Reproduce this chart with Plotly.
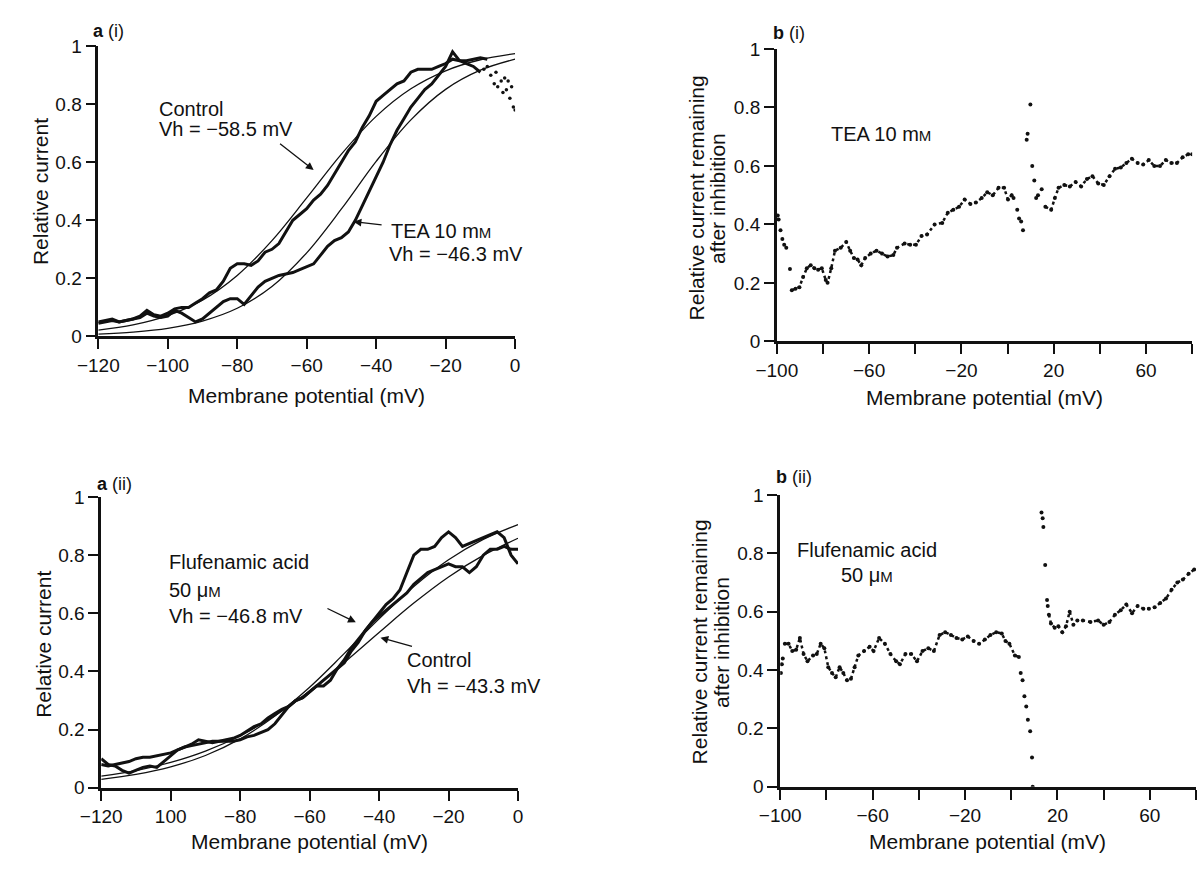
import plotly.graph_objects as go

W, H = 1203, 870
FONT = "Liberation Sans, Arial, Helvetica, sans-serif"
INK = "#111111"

# ---------------- a(i) : Control vs TEA 10 mM ----------------
ai_fit_v = [-120, -110, -100, -90, -80, -70, -60, -50, -40, -30, -20, -10, 0]
ai_ctrl_fit = [0.022, 0.040, 0.072, 0.125, 0.210, 0.330, 0.477, 0.628, 0.758, 0.853, 0.915, 0.953, 0.974]
ai_tea_fit = [0.008, 0.015, 0.028, 0.053, 0.097, 0.172, 0.288, 0.439, 0.603, 0.746, 0.851, 0.917, 0.955]

ai_ctrl_v = [-120, -118, -116, -114, -112, -110, -108, -106, -104, -102, -100, -98, -96, -94, -92, -90,
             -88, -86, -84, -82, -80, -78, -76, -74, -72, -70, -68, -66, -64, -62, -60, -58, -56, -54,
             -52, -50, -48, -46, -44, -42, -40, -38, -36, -34, -32, -30, -28, -26, -24, -22, -20, -18,
             -16, -14, -12, -10, -8]
ai_ctrl_i = [0.05, 0.055, 0.06, 0.05, 0.055, 0.06, 0.07, 0.09, 0.075, 0.07, 0.08, 0.095, 0.10, 0.10, 0.115, 0.13,
             0.15, 0.16, 0.19, 0.235, 0.25, 0.25, 0.245, 0.26, 0.29, 0.30, 0.32, 0.36, 0.40, 0.42, 0.44, 0.47, 0.49, 0.52,
             0.56, 0.60, 0.64, 0.67, 0.72, 0.76, 0.81, 0.83, 0.85, 0.87, 0.88, 0.91, 0.92, 0.92, 0.92, 0.93, 0.94, 0.955,
             0.95, 0.95, 0.955, 0.96, 0.955]

ai_tea_v = [-120, -118, -116, -114, -112, -110, -108, -106, -104, -102, -100, -98, -96, -94, -92, -90,
            -88, -86, -84, -82, -80, -78, -76, -74, -72, -70, -68, -66, -64, -62, -60, -58, -56, -54,
            -52, -50, -48, -46, -44, -42, -40, -38, -36, -34, -32, -30, -28, -26, -24, -22, -20, -18,
            -16, -14, -12, -10]
ai_tea_i = [0.045, 0.05, 0.055, 0.05, 0.055, 0.06, 0.065, 0.08, 0.07, 0.065, 0.07, 0.09, 0.08, 0.065, 0.05, 0.06,
            0.08, 0.10, 0.12, 0.13, 0.13, 0.11, 0.14, 0.17, 0.19, 0.20, 0.21, 0.215, 0.22, 0.23, 0.24, 0.25, 0.28, 0.31,
            0.33, 0.34, 0.36, 0.40, 0.45, 0.50, 0.55, 0.60, 0.66, 0.71, 0.75, 0.79, 0.82, 0.85, 0.87, 0.90, 0.93, 0.98,
            0.95, 0.94, 0.93, 0.91]
# scattered points at the depolarised end of the TEA record
ai_tea_dots_v = [-9, -8, -7, -6, -5.5, -5, -4, -3.5, -3, -2.5, -2, -1.5, -1, -0.5, 0]
ai_tea_dots_i = [0.92, 0.93, 0.90, 0.87, 0.91, 0.86, 0.88, 0.84, 0.89, 0.85, 0.88, 0.82, 0.86, 0.79, 0.78]

# ---------------- a(ii) : Control vs Flufenamic acid ----------------
aii_fit_v = [-120, -110, -100, -90, -80, -70, -60, -50, -40, -30, -20, -10, 0]
aii_fluf_fit = [0.029, 0.046, 0.072, 0.111, 0.168, 0.247, 0.346, 0.462, 0.581, 0.692, 0.784, 0.854, 0.905]
aii_ctrl_fit = [0.040, 0.059, 0.087, 0.126, 0.179, 0.248, 0.333, 0.431, 0.534, 0.635, 0.725, 0.799, 0.858]

aii_v = [-120, -118, -116, -114, -112, -110, -108, -106, -104, -102, -100, -98, -96, -94, -92, -90,
         -88, -86, -84, -82, -80, -78, -76, -74, -72, -70, -68, -66, -64, -62, -60, -58, -56, -54,
         -52, -50, -48, -46, -44, -42, -40, -38, -36, -34, -32, -30, -28, -26, -24, -22, -20, -18,
         -16, -14, -12, -10, -8, -6, -4, -2, 0]
aii_fluf_i = [0.10, 0.08, 0.075, 0.06, 0.05, 0.06, 0.07, 0.075, 0.07, 0.09, 0.11, 0.13, 0.14, 0.15, 0.165, 0.16,
              0.155, 0.16, 0.16, 0.16, 0.165, 0.175, 0.18, 0.19, 0.20, 0.22, 0.25, 0.28, 0.30, 0.31, 0.33, 0.35, 0.37, 0.39,
              0.41, 0.43, 0.47, 0.50, 0.54, 0.57, 0.60, 0.63, 0.65, 0.68, 0.74, 0.80, 0.82, 0.82, 0.83, 0.86, 0.88, 0.86,
              0.83, 0.84, 0.85, 0.86, 0.87, 0.88, 0.86, 0.80, 0.77]
aii_ctrl_i = [0.08, 0.075, 0.08, 0.085, 0.09, 0.10, 0.105, 0.105, 0.11, 0.115, 0.12, 0.13, 0.14, 0.145, 0.15, 0.155,
              0.16, 0.16, 0.165, 0.17, 0.18, 0.195, 0.21, 0.22, 0.24, 0.255, 0.27, 0.28, 0.30, 0.31, 0.33, 0.35, 0.35, 0.37,
              0.41, 0.44, 0.48, 0.51, 0.54, 0.57, 0.59, 0.61, 0.63, 0.65, 0.67, 0.70, 0.72, 0.74, 0.75, 0.76, 0.77, 0.76,
              0.76, 0.74, 0.76, 0.80, 0.82, 0.82, 0.83, 0.82, 0.82]

# ---------------- b(i) : TEA 10 mM, fraction remaining ----------------
bi_line1_v = [-93.5, -91.9, -90.2, -88.6, -87.0, -85.3, -83.7, -82.1, -80.5, -78.8, -78.0, -76.4, -74.8, -72.3,
              -69.9, -68.2, -66.6, -65.0, -63.4, -61.7, -59.3, -56.8, -54.4, -52.0, -49.5, -47.9, -44.6, -42.2,
              -39.7, -37.3, -34.9, -31.6, -28.3, -25.9, -23.5, -21.0, -18.6, -16.1, -13.7, -11.2, -8.8, -6.4,
              -3.9, -1.5, 0.2, 1.8, 2.6]
bi_line1_i = [0.175, 0.18, 0.185, 0.22, 0.25, 0.26, 0.25, 0.245, 0.25, 0.21, 0.20, 0.25, 0.31, 0.32,
              0.34, 0.31, 0.285, 0.28, 0.26, 0.285, 0.30, 0.31, 0.30, 0.29, 0.295, 0.32, 0.335, 0.33,
              0.33, 0.36, 0.365, 0.40, 0.405, 0.44, 0.45, 0.46, 0.485, 0.47, 0.475, 0.49, 0.51, 0.50,
              0.525, 0.525, 0.485, 0.50, 0.49]
bi_line2_v = [16.4, 18.9, 20.5, 22.1, 24.6, 27.0, 29.5, 31.9, 34.4, 36.8, 39.3, 41.7, 44.2, 46.6, 49.1, 51.5,
              53.9, 56.4, 58.8, 61.2, 63.6, 66.1, 68.6, 71.0, 73.4, 75.9, 78.3, 80.0]
bi_line2_i = [0.46, 0.45, 0.49, 0.525, 0.535, 0.53, 0.545, 0.53, 0.555, 0.565, 0.54, 0.535, 0.565, 0.59, 0.595, 0.61,
              0.625, 0.61, 0.605, 0.62, 0.60, 0.60, 0.62, 0.61, 0.61, 0.63, 0.64, 0.64]
bi_dots_v = [-99.6, -99.2, -98.4, -97.6, -96.8, -95.9, -94.3, 4.2, 5.0, 5.9, 6.7, 8.3, 8.7, 9.9, 10.7, 11.6,
             12.4, 13.2, 14.8]
bi_dots_i = [0.43, 0.417, 0.38, 0.35, 0.33, 0.32, 0.247, 0.45, 0.42, 0.41, 0.38, 0.69, 0.71, 0.81, 0.60, 0.55,
             0.49, 0.50, 0.52]

# ---------------- b(ii) : Flufenamic acid 50 uM, fraction remaining ----------------
bii_line1_v = [-98.0, -96.4, -94.8, -93.1, -91.5, -89.9, -88.2, -85.8, -84.2, -82.5, -80.9, -79.2, -77.6, -76.0,
               -74.3, -72.7, -71.1, -69.4, -67.8, -66.2, -63.7, -61.3, -59.6, -57.2, -54.7, -52.3, -49.8, -48.2,
               -45.8, -43.3, -40.8, -38.4, -35.9, -33.5, -31.0, -28.6, -26.1, -23.7, -21.2, -18.8, -16.3, -13.9,
               -11.4, -9.0, -6.5, -4.1, -2.5, -0.8, 1.6, 3.3]
bii_line1_i = [0.49, 0.49, 0.465, 0.47, 0.51, 0.455, 0.43, 0.45, 0.455, 0.49, 0.475, 0.41, 0.39, 0.375,
               0.41, 0.39, 0.365, 0.37, 0.41, 0.45, 0.465, 0.48, 0.465, 0.51, 0.49, 0.455, 0.43, 0.42,
               0.455, 0.455, 0.43, 0.465, 0.475, 0.465, 0.52, 0.53, 0.52, 0.51, 0.505, 0.515, 0.50, 0.49,
               0.505, 0.52, 0.53, 0.525, 0.50, 0.49, 0.45, 0.445]
bii_line2_v = [16.3, 17.2, 18.8, 20.4, 22.1, 23.7, 25.3, 26.9, 28.6, 31.0, 34.3, 37.6, 40.0, 42.5, 44.9, 47.4,
               49.8, 52.3, 54.7, 57.2, 59.6, 62.1, 64.5, 67.0, 69.4, 71.9, 74.3, 76.8, 79.2]
bii_line2_i = [0.59, 0.56, 0.545, 0.55, 0.53, 0.55, 0.60, 0.555, 0.57, 0.57, 0.565, 0.57, 0.555, 0.565, 0.59, 0.605,
               0.625, 0.595, 0.62, 0.61, 0.61, 0.615, 0.63, 0.645, 0.675, 0.70, 0.71, 0.73, 0.745]
bii_dots_v = [-99.7, -99.3, -98.9, 4.1, 4.9, 5.7, 6.5, 7.2, 8.2, 9.0, 9.3, 13.1, 13.6, 13.9, 14.7, 15.5, 15.8]
bii_dots_i = [0.39, 0.42, 0.44, 0.39, 0.365, 0.31, 0.275, 0.23, 0.19, 0.10, 0.0, 0.94, 0.92, 0.89, 0.76, 0.64, 0.62]

# ---------------- tick labels ----------------
a_tickvals = [-120, -100, -80, -60, -40, -20, 0]
ai_ticktext = ["\u2212120", "\u2212100", "\u221280", "\u221260", "\u221240", "\u221220", "0"]
aii_ticktext = ["\u2212120", "100", "\u221280", "\u221260", "\u221240", "\u221220", "0"]
b_tickvals = [-100, -80, -60, -40, -20, 0, 20, 40, 60, 80]
b_ticktext = ["\u2212100", "", "\u221260", "", "\u221220", "", "20", "", "60", ""]
y_tickvals = [0, 0.2, 0.4, 0.6, 0.8, 1]
y_ticktext = ["0", "0.2", "0.4", "0.6", "0.8", "1"]

SMALL_M = "<span style='font-size:15px'>M</span>"

fig = go.Figure()


def fit_line(x, y, ax):
    fig.add_trace(go.Scatter(x=x, y=y, mode="lines", line=dict(color=INK, width=1.3, shape="spline"),
                             xaxis=ax[0], yaxis=ax[1], hoverinfo="skip"))


def data_line(x, y, ax, width=3):
    fig.add_trace(go.Scatter(x=x, y=y, mode="lines", line=dict(color=INK, width=width),
                             xaxis=ax[0], yaxis=ax[1], hoverinfo="skip"))


def dotted(x, y, ax, lines=True, size=4):
    fig.add_trace(go.Scatter(x=x, y=y, mode="lines+markers" if lines else "markers",
                             line=dict(color=INK, width=2.5, dash="dot"),
                             marker=dict(color=INK, size=size),
                             xaxis=ax[0], yaxis=ax[1], hoverinfo="skip"))


A1 = ("x", "y")
B1 = ("x2", "y2")
A2 = ("x3", "y3")
B2 = ("x4", "y4")

fit_line(ai_fit_v, ai_ctrl_fit, A1)
fit_line(ai_fit_v, ai_tea_fit, A1)
data_line(ai_ctrl_v, ai_ctrl_i, A1)
data_line(ai_tea_v, ai_tea_i, A1)
dotted(ai_tea_dots_v, ai_tea_dots_i, A1, lines=False, size=3.5)

fit_line(aii_fit_v, aii_fluf_fit, A2)
fit_line(aii_fit_v, aii_ctrl_fit, A2)
data_line(aii_v, aii_fluf_i, A2)
data_line(aii_v, aii_ctrl_i, A2)

dotted(bi_line1_v, bi_line1_i, B1)
dotted(bi_line2_v, bi_line2_i, B1)
dotted(bi_dots_v, bi_dots_i, B1, lines=False)

dotted(bii_line1_v, bii_line1_i, B2)
dotted(bii_line2_v, bii_line2_i, B2)
dotted(bii_dots_v, bii_dots_i, B2, lines=False)


def px_x(p):
    return p / W


def px_y(p):
    return 1 - p / H


tickfont = dict(family=FONT, size=19, color=INK)


def xaxis(dom, anchor, rng, tv, tt):
    return dict(domain=[px_x(dom[0]), px_x(dom[1])], anchor=anchor, range=rng, showline=True,
                linecolor=INK, linewidth=2.5, ticks="outside", ticklen=10, tickwidth=2, tickcolor=INK,
                tickvals=tv, ticktext=tt, showgrid=False, zeroline=False, tickfont=tickfont)


def yaxis(dom, anchor):
    return dict(domain=[px_y(dom[1]), px_y(dom[0])], anchor=anchor, range=[0, 1], showline=True,
                linecolor=INK, linewidth=2.5, ticks="outside", ticklen=10, tickwidth=2, tickcolor=INK,
                tickvals=y_tickvals, ticktext=y_ticktext, showgrid=False, zeroline=False, tickfont=tickfont)


# pixel geometry of the four panels (left, right) / (top, bottom)
fig.update_layout(
    width=W, height=H,
    margin=dict(l=0, r=0, t=0, b=0),
    paper_bgcolor="white", plot_bgcolor="white",
    showlegend=False,
    font=dict(family=FONT, color=INK),
    xaxis=xaxis((79, 505), "y", [-120, 0], a_tickvals, ai_ticktext),
    yaxis=yaxis((37, 334.5), "x"),
    xaxis2=xaxis((772.5, 1197), "y2", [-100, 80], b_tickvals, b_ticktext),
    yaxis2=yaxis((40, 339.5), "x2"),
    xaxis3=xaxis((82, 508), "y3", [-120, 0], a_tickvals, aii_ticktext),
    yaxis3=yaxis((499, 797), "x3"),
    xaxis4=xaxis((776, 1201), "y4", [-100, 80], b_tickvals, b_ticktext),
    yaxis4=yaxis((497, 796), "x4"),
)

ann = []


def text(x, y, s, size=20, xref="paper", yref="paper", xanchor="left", angle=0):
    ann.append(dict(x=x, y=y, xref=xref, yref=yref, text=s, showarrow=False, xanchor=xanchor,
                    yanchor="middle", textangle=angle, font=dict(family=FONT, size=size, color=INK)))


def arrow(x, y, ax, ay, xref, yref):
    ann.append(dict(x=x, y=y, ax=ax, ay=ay, xref=xref, yref=yref, axref=xref, ayref=yref, text="",
                    showarrow=True, arrowhead=2, arrowsize=1.2, arrowwidth=1.3, arrowcolor=INK))


# panel labels
text(px_x(72), px_y(22), "<b>a</b> (i)", size=18)
text(px_x(767), px_y(24), "<b>b</b> (i)", size=18)
text(px_x(76), px_y(486), "<b>a</b> (ii)", size=18)
text(px_x(770), px_y(479), "<b>b</b> (ii)", size=18)

# axis titles
text(px_x(20), px_y(186), "Relative current", size=21, xanchor="center", angle=-90)
text(px_x(292), px_y(395), "Membrane potential (mV)", size=21, xanchor="center")
text(px_x(690), px_y(193), "Relative current remaining", size=21, xanchor="center", angle=-90)
text(px_x(712), px_y(193), "after inhibition", size=21, xanchor="center", angle=-90)
text(px_x(985), px_y(397), "Membrane potential (mV)", size=21, xanchor="center")
text(px_x(23), px_y(650), "Relative current", size=21, xanchor="center", angle=-90)
text(px_x(295), px_y(852), "Membrane potential (mV)", size=21, xanchor="center")
text(px_x(693), px_y(648), "Relative current remaining", size=21, xanchor="center", angle=-90)
text(px_x(716), px_y(648), "after inhibition", size=21, xanchor="center", angle=-90)
text(px_x(988), px_y(852), "Membrane potential (mV)", size=21, xanchor="center")

# a(i) labels
text(-103.2, 0.785, "Control", xref="x", yref="y")
text(-103.0, 0.713, "Vh = \u221258.5 mV", xref="x", yref="y")
arrow(-58.0, 0.573, -68.1, 0.668, "x", "y")
text(-36.4, 0.362, "TEA 10 m" + SMALL_M, xref="x", yref="y")
text(-37.0, 0.284, "Vh = \u221246.3 mV", xref="x", yref="y")
arrow(-46.5, 0.395, -38.0, 0.384, "x", "y")

# a(ii) labels
text(-101.1, 0.775, "Flufenamic acid", xref="x3", yref="y3")
text(-101.1, 0.680, "50 \u03bc" + SMALL_M, xref="x3", yref="y3")
text(-101.1, 0.591, "Vh = \u221246.8 mV", xref="x3", yref="y3")
arrow(-46.7, 0.569, -55.3, 0.619, "x3", "y3")
text(-32.6, 0.440, "Control", xref="x3", yref="y3")
text(-32.6, 0.351, "Vh = \u221243.3 mV", xref="x3", yref="y3")
arrow(-39.6, 0.516, -30.1, 0.485, "x3", "y3")

# b labels
text(-77.2, 0.709, "TEA 10 m" + SMALL_M, xref="x2", yref="y2")
text(-62.5, 0.811, "Flufenamic acid", xref="x4", yref="y4", xanchor="center")
text(-62.5, 0.727, "50 \u03bc" + SMALL_M, xref="x4", yref="y4", xanchor="center")

fig.update_layout(annotations=ann)

fig.write_html("out.html")
